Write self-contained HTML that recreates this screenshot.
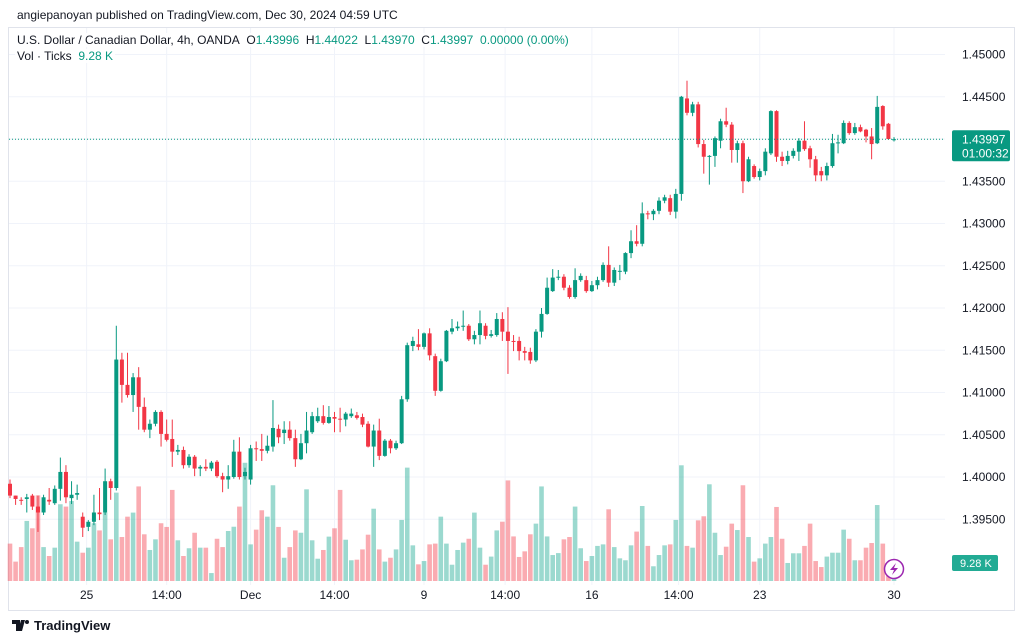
<!DOCTYPE html>
<html><head><meta charset="utf-8"><style>
html,body{margin:0;padding:0;background:#fff;width:1024px;height:641px;overflow:hidden;font-family:"Liberation Sans",sans-serif;}
#wrap{position:relative;width:1024px;height:641px;}
.t{position:absolute;font-size:12px;color:#131722;white-space:nowrap;z-index:2;}
.lg{background:rgba(255,255,255,0.9);padding:0 2px;}
.g{color:#089981;}
</style></head><body>
<div id="wrap">
<svg id="chart" width="1024" height="641" style="position:absolute;left:0;top:0"></svg>
<div class="t" style="left:17px;top:8px;font-size:12px;color:#131722">angiepanoyan published on TradingView.com, Dec 30, 2024 04:59 UTC</div>
<div class="t lg" style="left:15px;top:33px">U.S. Dollar / Canadian Dollar, 4h, OANDA&nbsp; O<span class="g">1.43996</span>&nbsp; H<span class="g">1.44022</span>&nbsp; L<span class="g">1.43970</span>&nbsp; C<span class="g">1.43997</span>&nbsp; <span class="g">0.00000 (0.00%)</span></div>
<div class="t lg" style="left:15px;top:49px">Vol · Ticks&nbsp; <span class="g">9.28 K</span></div>
<div class="t" style="left:12px;top:618px;font-size:13px;font-weight:bold;display:flex;align-items:center"><svg width="18" height="11" style="margin-right:4px"><path d="M0 0h8v11H4V4H0z M9 0h4l-3 11H6z" fill="#131722"/><circle cx="15" cy="2" r="2" fill="#131722"/></svg>TradingView</div>
</div>
<script>
const opens=[1.3992,1.3978,1.3973,1.3974,1.3978,1.3965,1.3958,1.3973,1.3969,1.3986,1.4006,1.3975,1.3979,1.3953,1.3941,1.3947,1.3958,1.3958,1.3995,1.3987,1.4139,1.4109,1.4097,1.4118,1.4083,1.4056,1.4063,1.4077,1.4051,1.4045,1.4030,1.4032,1.4014,1.4024,1.4010,1.4012,1.4010,1.4018,1.4001,1.3997,1.4000,1.4030,1.4001,1.3997,1.4034,1.4033,1.4031,1.4036,1.4057,1.4052,1.4056,1.4046,1.4021,1.4040,1.4053,1.4066,1.4072,1.4064,1.4071,1.4069,1.4068,1.4072,1.4073,1.4071,1.4063,1.4036,1.4055,1.4025,1.4043,1.4034,1.4040,1.4092,1.4155,1.4157,1.4154,1.4170,1.4143,1.4102,1.4137,1.4172,1.4176,1.4178,1.4179,1.4163,1.4168,1.4179,1.4167,1.4168,1.4187,1.4172,1.4161,1.4161,1.4149,1.4148,1.4138,1.4172,1.4193,1.4220,1.4236,1.4237,1.4224,1.4213,1.4233,1.4233,1.4220,1.4227,1.4233,1.4251,1.4230,1.4243,1.4243,1.4265,1.4279,1.4276,1.4312,1.4311,1.4315,1.4327,1.4330,1.4314,1.4335,1.4448,1.4431,1.4441,1.4394,1.4379,1.4380,1.4398,1.4421,1.4417,1.4387,1.4395,1.4350,1.4368,1.4355,1.4362,1.4383,1.4433,1.4379,1.4374,1.4380,1.4385,1.4398,1.4389,1.4376,1.4362,1.4357,1.4368,1.4395,1.4395,1.4419,1.4407,1.4414,1.4411,1.4403,1.4395,1.4439,1.4418,1.43996];
const closes=[1.3978,1.3974,1.3972,1.3976,1.3965,1.3958,1.3976,1.3971,1.3986,1.4006,1.3976,1.3979,1.3981,1.3940,1.3947,1.3958,1.3956,1.3995,1.3987,1.4139,1.4109,1.4097,1.4118,1.4083,1.4056,1.4063,1.4077,1.4051,1.4044,1.4030,1.4032,1.4014,1.4024,1.4010,1.4012,1.4010,1.4017,1.4001,1.3997,1.4001,1.4030,1.4000,1.4006,1.4034,1.4033,1.4031,1.4037,1.4058,1.4047,1.4056,1.4046,1.4021,1.4040,1.4055,1.4072,1.4072,1.4064,1.4071,1.4069,1.4068,1.4075,1.4075,1.4070,1.4062,1.4036,1.4055,1.4025,1.4043,1.4034,1.4040,1.4092,1.4156,1.4161,1.4154,1.4170,1.4144,1.4102,1.4137,1.4173,1.4176,1.4178,1.4179,1.4163,1.4168,1.4182,1.4167,1.4169,1.4187,1.4172,1.4161,1.4160,1.4149,1.4147,1.4138,1.4172,1.4193,1.4224,1.4236,1.4237,1.4224,1.4213,1.4233,1.4238,1.4220,1.4227,1.4233,1.4251,1.4230,1.4245,1.4244,1.4265,1.4279,1.4276,1.4312,1.4311,1.4315,1.4327,1.4331,1.4314,1.4335,1.4450,1.4431,1.4441,1.4394,1.4379,1.4380,1.4401,1.4421,1.4417,1.4387,1.4395,1.4350,1.4376,1.4355,1.4362,1.4385,1.4433,1.4379,1.4374,1.4380,1.4386,1.4398,1.4388,1.4376,1.4357,1.4357,1.4368,1.4395,1.4396,1.4419,1.4407,1.4414,1.4409,1.4403,1.4394,1.4438,1.4415,1.4400,1.43997];
const highs=[1.3997,1.3978,1.3976,1.3980,1.3980,1.3978,1.3979,1.3987,1.3990,1.4023,1.4014,1.3995,1.3991,1.3958,1.3949,1.3979,1.3987,1.4010,1.3998,1.4179,1.4147,1.4147,1.4123,1.4130,1.4094,1.4068,1.4079,1.4079,1.4068,1.4068,1.4038,1.4036,1.4027,1.4026,1.4014,1.4021,1.4019,1.4020,1.4005,1.4014,1.4044,1.4047,1.4011,1.4038,1.4042,1.4051,1.4049,1.4091,1.4062,1.4066,1.4066,1.4056,1.4051,1.4077,1.4077,1.4082,1.4085,1.4084,1.4077,1.4082,1.4077,1.4081,1.4077,1.4075,1.4066,1.4062,1.4069,1.4045,1.4045,1.4043,1.4096,1.4159,1.4166,1.4175,1.4171,1.4176,1.4146,1.4140,1.4174,1.4187,1.4184,1.4197,1.4181,1.4173,1.4197,1.4182,1.4174,1.4194,1.4195,1.4201,1.4168,1.4166,1.4154,1.4153,1.4175,1.4200,1.4236,1.4246,1.4245,1.4240,1.4227,1.4247,1.4241,1.4238,1.4232,1.4237,1.4254,1.4273,1.4248,1.4251,1.4266,1.4292,1.4298,1.4325,1.4315,1.4317,1.4331,1.4334,1.4334,1.4341,1.4451,1.4469,1.4444,1.4444,1.4399,1.4381,1.4403,1.4424,1.4437,1.4420,1.4398,1.4398,1.4379,1.4370,1.4365,1.4389,1.4434,1.4434,1.4385,1.4386,1.4389,1.4401,1.4421,1.4392,1.4380,1.4367,1.4372,1.4406,1.4405,1.4422,1.4421,1.4419,1.4417,1.4412,1.4413,1.4451,1.4440,1.4419,1.44022];
const lows=[1.3975,1.3967,1.3967,1.3958,1.3961,1.3935,1.3955,1.3967,1.3967,1.3972,1.3969,1.3968,1.3973,1.3929,1.3936,1.3943,1.3949,1.3955,1.3973,1.3984,1.4088,1.4094,1.4077,1.4056,1.4053,1.4046,1.4060,1.4036,1.4042,1.4012,1.4026,1.4010,1.4011,1.4001,1.4001,1.4007,1.4007,1.3999,1.3982,1.3986,1.3998,1.3997,1.3997,1.3991,1.4019,1.4019,1.4028,1.4030,1.4040,1.4039,1.4043,1.4012,1.4020,1.4028,1.4051,1.4064,1.4062,1.4063,1.4053,1.4053,1.4060,1.4070,1.4068,1.4059,1.4035,1.4012,1.4020,1.4024,1.4028,1.4032,1.4039,1.4089,1.4149,1.4150,1.4151,1.4138,1.4096,1.4101,1.4136,1.4169,1.4173,1.4173,1.4161,1.4157,1.4157,1.4163,1.4165,1.4166,1.4161,1.4122,1.4149,1.4138,1.4138,1.4134,1.4136,1.4165,1.4192,1.4219,1.4233,1.4221,1.4211,1.4211,1.4231,1.4218,1.4219,1.4222,1.4231,1.4225,1.4226,1.4233,1.4240,1.4259,1.4273,1.4273,1.4305,1.4304,1.4311,1.4324,1.4310,1.4306,1.4327,1.4428,1.4427,1.4390,1.4359,1.4346,1.4367,1.4389,1.4414,1.4372,1.4372,1.4336,1.4349,1.4353,1.4351,1.4357,1.4381,1.4373,1.4368,1.4370,1.4377,1.4374,1.4386,1.4366,1.4350,1.4350,1.4351,1.4366,1.4383,1.4394,1.4405,1.4405,1.4408,1.4396,1.4376,1.4394,1.4411,1.4399,1.43970];
const volumes=[19.3,10.0,17.5,31.0,27.2,44.2,17.5,12.9,17.2,39.6,38.4,41.3,20.3,14.6,17.2,29.8,26.1,35.3,21.5,45.6,22.7,33.2,35.3,48.8,24.1,16.0,21.5,29.8,27.9,47.0,21.0,12.9,16.9,24.9,17.2,17.2,4.1,21.8,17.5,25.8,28.0,38.4,61.0,18.9,26.5,36.5,33.2,49.4,27.9,12.0,17.5,26.1,24.9,47.3,21.0,11.5,16.0,22.9,27.2,47.0,21.3,10.7,11.0,16.3,23.9,37.3,16.3,10.0,12.0,16.3,31.5,58.5,18.4,8.6,10.3,18.9,19.3,33.2,19.3,8.4,16.0,19.8,21.8,35.3,17.2,8.4,12.6,26.1,30.6,51.9,23.0,12.4,15.3,24.1,29.6,48.8,23.0,13.4,14.4,21.5,22.7,38.4,16.9,10.3,12.9,18.1,18.9,37.0,17.5,11.7,10.7,18.4,25.5,38.7,18.1,7.6,13.4,18.4,18.9,31.5,59.7,18.1,17.2,31.3,33.4,49.9,24.9,13.4,17.7,29.6,26.3,49.4,22.7,10.0,11.7,19.3,22.7,38.2,21.8,9.3,14.3,14.3,18.1,29.6,10.3,7.2,12.6,14.6,14.6,26.5,21.8,10.7,10.7,17.2,19.6,39.2,19.3,8.6,9.28];
const priceTicks=[1.395,1.400,1.405,1.410,1.415,1.420,1.425,1.430,1.435,1.440,1.445,1.450];
const timeLabels=["25","14:00","Dec","14:00","9","14:00","16","14:00","23","30"];
const timeLabelIdx=[13.7,28,43,58,74,88.5,104,119.5,134,158];

const NS="http://www.w3.org/2000/svg";
const svg=document.getElementById('chart');
const X0=10,X1=894,N=opens.length;
function xScale(i){return X0+i*(X1-X0)/(N-1);}
function yScale(p){return 139-(p-1.44)*8450;}
const VBASE=581;
function vScale(v){return v/0.516;}
function mk(tag,attrs){const e=document.createElementNS(NS,tag);for(const k in attrs)e.setAttribute(k,attrs[k]);svg.appendChild(e);return e;}
const GREEN="#089981",RED="#f23645";

let fr=mk('rect',{x:8.5,y:27.5,width:1006,height:583,fill:'none',stroke:'#e0e3eb'});



priceTicks.forEach(p=>{
  const y=yScale(p);
  const gl=mk('line',{x1:9,x2:945,y1:y,y2:y,stroke:'#f0f3fa','stroke-width':1});
  
  
  const t=mk('text',{x:962,y:y+4,'font-size':12,fill:'#131722','font-family':'Liberation Sans, sans-serif'});
  t.textContent=p.toFixed(5);
  
  
});
timeLabels.forEach((lab,k)=>{
  const x=xScale(timeLabelIdx[k]);
  const gl=mk('line',{x1:x,x2:x,y1:28,y2:585,stroke:'#f0f3fa','stroke-width':1});
  
  
  const t=mk('text',{x:x,y:599,'font-size':12,fill:'#131722','text-anchor':'middle','font-family':'Liberation Sans, sans-serif'});
  t.textContent=lab;
  
  
});

volumes.forEach((v,i)=>{
  const up=closes[i]>=opens[i];
  const h=vScale(v);
  const r=mk('rect',{x:xScale(i)-2.3,y:VBASE-h,width:4.6,height:h,fill:up?'rgba(34,171,148,0.45)':'rgba(242,54,69,0.42)'});
  
  
});

opens.forEach((o,i)=>{
  const c=closes[i],up=c>=o,col=up?GREEN:RED,x=xScale(i);
  const w=mk('line',{x1:x,x2:x,y1:yScale(highs[i]),y2:yScale(lows[i]),stroke:col,'stroke-width':1});
  
  
  const yt=yScale(Math.max(o,c)),yb=yScale(Math.min(o,c));
  const b=mk('rect',{x:x-2,y:yt,width:4,height:Math.max(1,yb-yt),fill:col});
  
  
});

const last=closes[N-1];
const pl=mk('line',{x1:9,x2:945,y1:yScale(last),y2:yScale(last),stroke:GREEN,'stroke-width':1,'stroke-dasharray':'1,2'});


const pb=mk('rect',{x:952,y:yScale(last)-9,width:58,height:31,rx:2,fill:GREEN});


const pt=mk('text',{x:962,y:yScale(last)+4,'font-size':12,fill:'#fff','font-family':'Liberation Sans, sans-serif'});
pt.textContent=last.toFixed(5);


const ct=mk('text',{x:962,y:yScale(last)+18,'font-size':12,fill:'#fff','font-family':'Liberation Sans, sans-serif'});
ct.textContent="01:00:32";


const lastV=volumes[N-1];
const vb=mk('rect',{x:952,y:VBASE-vScale(lastV)-8,width:46,height:16,rx:2,fill:'#22ab94'});


const vt=mk('text',{x:960,y:VBASE-vScale(lastV)+4,'font-size':11,fill:'#fff','font-family':'Liberation Sans, sans-serif'});
vt.textContent=lastV.toFixed(2)+" K";



const lc=mk('circle',{cx:894,cy:569,r:9.5,fill:'#fff',stroke:'#9c27b0','stroke-width':1.5});


const lp=mk('path',{d:'M896 563 L890 570 L894 570 L892 575 L898 568 L894 568 Z',fill:'#9c27b0'});


</script>
</body></html>
